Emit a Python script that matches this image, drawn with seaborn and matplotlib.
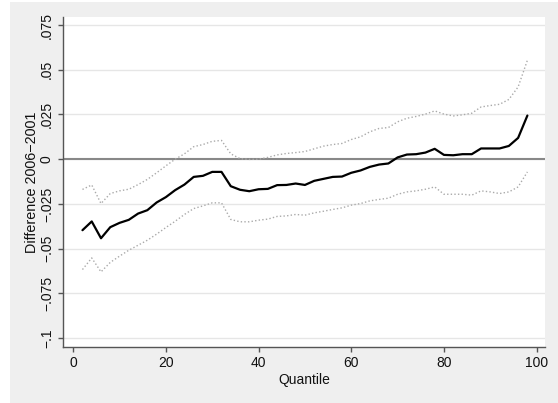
import numpy as np
import pandas as pd
import matplotlib
matplotlib.use("Agg")
import matplotlib.pyplot as plt
import seaborn as sns
from matplotlib.patches import Rectangle

# =========================================
# DADOS
# =========================================

quantis = list(range(2, 100, 2))

diferenca = [
    -0.0397, -0.0348, -0.0442, -0.0380, -0.0356, -0.0339, -0.0304, -0.0285,
    -0.0242, -0.0212, -0.0173, -0.0142, -0.0099, -0.0093, -0.0071, -0.0071,
    -0.0151, -0.0171, -0.0179, -0.0168, -0.0166, -0.0145, -0.0144, -0.0136,
    -0.0144, -0.0121, -0.0110, -0.0099, -0.0097, -0.0076, -0.0063, -0.0043,
    -0.0030, -0.0024, 0.0010, 0.0026, 0.0028, 0.0037, 0.0058, 0.0024,
    0.0022, 0.0028, 0.0028, 0.0060, 0.0060, 0.0060, 0.0074, 0.0119, 0.0244
]

limite_superior = [
    -0.0169, -0.0144, -0.0248, -0.0192, -0.0177, -0.0168, -0.0142, -0.0113,
    -0.0076, -0.0037, 0.0000, 0.0030, 0.0070, 0.0082, 0.0100, 0.0105,
    0.0030, 0.0003, -0.0001, 0.0000, 0.0010, 0.0024, 0.0032, 0.0037,
    0.0043, 0.0058, 0.0073, 0.0082, 0.0088, 0.0110, 0.0125, 0.0153,
    0.0172, 0.0177, 0.0209, 0.0229, 0.0239, 0.0252, 0.0270, 0.0252,
    0.0242, 0.0248, 0.0257, 0.0292, 0.0300, 0.0307, 0.0334, 0.0404, 0.0553
]

limite_inferior = [
    -0.0617, -0.0552, -0.0630, -0.0577, -0.0542, -0.0509, -0.0481, -0.0453,
    -0.0419, -0.0382, -0.0347, -0.0309, -0.0276, -0.0261, -0.0244, -0.0244,
    -0.0337, -0.0350, -0.0350, -0.0341, -0.0335, -0.0320, -0.0317, -0.0309,
    -0.0313, -0.0300, -0.0291, -0.0281, -0.0272, -0.0257, -0.0248, -0.0233,
    -0.0225, -0.0218, -0.0196, -0.0183, -0.0177, -0.0168, -0.0155, -0.0196,
    -0.0196, -0.0196, -0.0201, -0.0177, -0.0183, -0.0192, -0.0183, -0.0155, -0.0071
]

y_ticks = [-0.1, -0.075, -0.05, -0.025, 0, 0.025, 0.05, 0.075]
y_labels = ["\u2212.1", "\u2212.075", "\u2212.05", "\u2212.025", "0", ".025", ".05", ".075"]
x_ticks = [0, 20, 40, 60, 80, 100]

df = pd.DataFrame({
    "Quantile": quantis,
    "diff": diferenca,
    "upper": limite_superior,
    "lower": limite_inferior
})

# =========================================
# FIGURA
# =========================================

sns.set_style("white")
plt.rcParams["font.family"] = ["Liberation Sans", "DejaVu Sans"]

fig = plt.figure(figsize=(5.58, 4.03), dpi=100)
fig.patch.set_facecolor("white")

# fundo cinza estilo Stata
fig.patches.append(Rectangle((10 / 558, 0), 1, (403 - 2) / 403,
                             transform=fig.transFigure, facecolor="#efefef",
                             edgecolor="none", zorder=-5))

ax = fig.add_axes([63 / 558, 56 / 403, (545 - 63) / 558, (347 - 17) / 403])
ax.set_facecolor("white")

for y in y_ticks:
    ax.axhline(y, color="#e6e6e6", lw=1, zorder=0)
ax.axhline(0, color="#888888", lw=1.5, zorder=1)

sns.lineplot(data=df, x="Quantile", y="upper", ax=ax, color="#aaaaaa",
             lw=1, linestyle=(0, (1, 1.6)), zorder=2)
sns.lineplot(data=df, x="Quantile", y="lower", ax=ax, color="#aaaaaa",
             lw=1, linestyle=(0, (1, 1.6)), zorder=2)
sns.lineplot(data=df, x="Quantile", y="diff", ax=ax, color="black",
             lw=1.6, zorder=3)

ax.set_xlim(-2.2, 101.8)
ax.set_ylim(-0.105, 0.0795)

ax.set_xticks(x_ticks)
ax.set_yticks(y_ticks)
ax.set_yticklabels(y_labels, rotation=90, va="center")

for lado in ["top", "right"]:
    ax.spines[lado].set_visible(False)
for lado in ["left", "bottom"]:
    ax.spines[lado].set_color("#555555")
    ax.spines[lado].set_linewidth(1)

ax.tick_params(axis="both", which="major", direction="out", length=3.5,
               width=1, color="#555555", labelsize=10, labelcolor="#111111",
               left=True, bottom=True, pad=3)

ax.set_xlabel("Quantile", fontsize=10, color="#111111", labelpad=2)
ax.set_ylabel("Difference 2006\u22122001", fontsize=10.4, color="#111111", labelpad=1)

fig.savefig("out.png", dpi=100)
